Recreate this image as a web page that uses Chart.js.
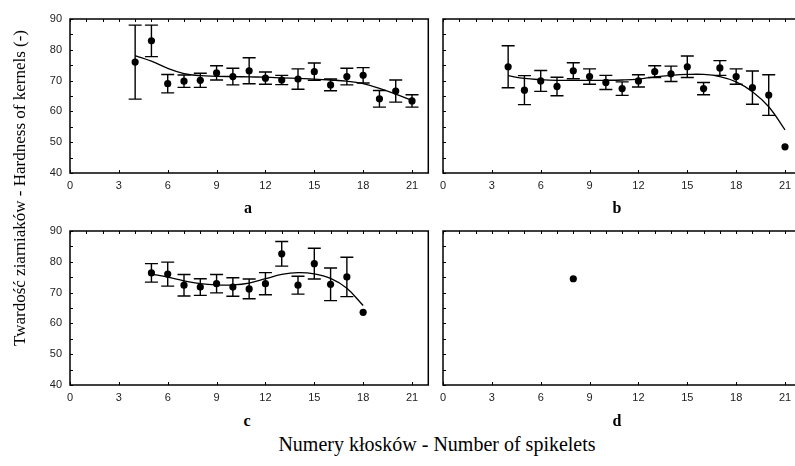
<!DOCTYPE html>
<html>
<head>
<meta charset="utf-8">
<script src="https://cdn.jsdelivr.net/npm/chart.js@4.4.1/dist/chart.umd.min.js"></script>
<style>
  html, body { margin: 0; padding: 0; background: #fff; overflow: hidden; width: 795px; height: 466px; }
  canvas { position: absolute; }
  .txt { position: absolute; font-family: "Liberation Serif", "Times New Roman", serif; color: #000; white-space: nowrap; transform: translate(-50%, -50%); }
  .letter { font-weight: bold; font-size: 16px; }
  .axis-title { font-size: 17px; }
</style>
</head>
<body>
<canvas id="chartA" width="440" height="200" style="left:0;top:0"></canvas>
<canvas id="chartB" width="440" height="200" style="left:373px;top:0"></canvas>
<canvas id="chartC" width="440" height="200" style="left:0;top:212px"></canvas>
<canvas id="chartD" width="440" height="200" style="left:373px;top:212px"></canvas>

<div class="txt letter" style="left:248px;top:208px">a</div>
<div class="txt letter" style="left:617px;top:208px">b</div>
<div class="txt letter" style="left:247px;top:421px">c</div>
<div class="txt letter" style="left:617px;top:421px">d</div>
<div class="txt axis-title" style="left:20px;top:188px;transform:translate(-50%,-50%) rotate(-90deg)">Twardość ziarniaków - Hardness of kernels (-)</div>
<div class="txt axis-title" style="left:437px;top:444px;font-size:20px">Numery kłosków - Number of spikelets</div>

<script>
// spikelet number, mean hardness, +/- error, fitted curve
const spikeletsA = [4, 5, 6, 7, 8, 9, 10, 11, 12, 13, 14, 15, 16, 17, 18, 19, 20, 21];
const hardnessA  = [76.0, 82.9, 69.0, 69.8, 70.1, 72.5, 71.3, 73.2, 70.8, 70.2, 70.5, 72.9, 68.6, 71.3, 71.7, 64.1, 66.6, 63.4];
const errorA     = [12.0, 5.1, 3.0, 2.0, 2.3, 2.3, 2.7, 4.2, 2.0, 1.5, 3.3, 2.8, 1.9, 2.7, 2.5, 2.7, 3.6, 2.0];
const fitA       = [78.1, 76.3, 74.0, 72.3, 71.6, 71.4, 71.3, 71.2, 71.1, 70.9, 70.7, 70.5, 70.2, 69.8, 69.0, 67.5, 65.6, 63.5];

const spikeletsB = [4, 5, 6, 7, 8, 9, 10, 11, 12, 13, 14, 15, 16, 17, 18, 19, 20, 21];
const hardnessB  = [74.5, 66.9, 69.9, 68.1, 73.2, 71.3, 69.4, 67.4, 69.9, 72.9, 72.2, 74.5, 67.4, 74.1, 71.3, 67.7, 65.3, 48.5];
const errorB     = [6.8, 4.7, 3.4, 3.0, 2.6, 2.5, 2.3, 2.2, 2.0, 1.9, 2.5, 3.5, 2.0, 2.4, 2.5, 5.4, 6.6, 0];
const fitB       = [71.6, 70.7, 70.3, 70.1, 70.1, 70.1, 70.1, 70.2, 70.5, 71.2, 71.7, 72.0, 72.0, 71.3, 69.6, 66.4, 61.5, 54.0];

const spikeletsC = [5, 6, 7, 8, 9, 10, 11, 12, 13, 14, 15, 16, 17, 18];
const hardnessC  = [76.4, 76.0, 72.4, 71.8, 72.9, 71.8, 71.2, 72.9, 82.6, 72.4, 79.4, 72.7, 75.1, 63.6];
const errorC     = [3.0, 3.9, 3.5, 2.7, 3.0, 3.0, 3.2, 3.6, 4.0, 2.9, 5.0, 5.3, 6.4, 0];
const fitC       = [76.0, 75.0, 73.8, 72.9, 72.5, 72.5, 73.1, 74.5, 75.9, 76.5, 76.1, 74.6, 71.4, 65.8];

const spikeletsD = [8];
const hardnessD  = [74.5];
const errorD     = [0];

const xTicks = [0, 3, 6, 9, 12, 15, 18, 21];
const yTicks = [40, 50, 60, 70, 80, 90];

// whiskers with caps, drawn from the scales
const errorBars = {
  id: 'errorBars',
  afterDatasetsDraw(chart) {
    const { ctx, scales: { x, y } } = chart;
    const pts = chart.data.datasets[0].data;
    ctx.save();
    ctx.strokeStyle = '#000';
    ctx.lineWidth = 1.4;
    pts.forEach(p => {
      if (!p.err) return;
      const px = x.getPixelForValue(p.x);
      const top = y.getPixelForValue(p.y + p.err);
      const bot = y.getPixelForValue(p.y - p.err);
      ctx.beginPath();
      ctx.moveTo(px, top); ctx.lineTo(px, bot);
      ctx.moveTo(px - 6.5, top); ctx.lineTo(px + 6.5, top);
      ctx.moveTo(px - 6.5, bot); ctx.lineTo(px + 6.5, bot);
      ctx.stroke();
    });
    ctx.restore();
  }
};

// box around the plot with small inward tick marks
const frame = {
  id: 'frame',
  afterDraw(chart) {
    const { ctx, chartArea: a, scales: { x, y } } = chart;
    ctx.save();
    ctx.strokeStyle = '#000';
    ctx.lineWidth = 1.5;
    ctx.strokeRect(a.left, a.top, a.right - a.left, a.bottom - a.top);
    ctx.lineWidth = 1;
    ctx.beginPath();
    for (let v = 40; v <= 90; v += 5) {
      const py = Math.round(y.getPixelForValue(v)) + 0.5;
      ctx.moveTo(a.left, py); ctx.lineTo(a.left + 3, py);
    }
    for (let v = 0; v <= 22; v += 1) {
      const px = Math.round(x.getPixelForValue(v)) + 0.5;
      ctx.moveTo(px, a.top); ctx.lineTo(px, a.top + 3);
    }
    xTicks.forEach(v => {
      const px = Math.round(x.getPixelForValue(v)) + 0.5;
      ctx.moveTo(px, a.bottom); ctx.lineTo(px, a.bottom - 3);
    });
    ctx.stroke();
    ctx.restore();
  }
};

function makePanel(id, xs, means, errs, fit, showYLabels) {
  const datasets = [{
    data: xs.map((v, i) => ({ x: v, y: means[i], err: errs[i] })),
    pointRadius: 3.6,
    pointBackgroundColor: '#000',
    pointBorderWidth: 0,
    showLine: false,
    order: 1
  }];
  if (fit) {
    datasets.push({
      type: 'line',
      data: xs.map((v, i) => ({ x: v, y: fit[i] })),
      borderColor: '#000',
      borderWidth: 1.3,
      pointRadius: 0,
      tension: 0.4,
      fill: false,
      order: 2
    });
  }
  return new Chart(document.getElementById(id), {
    type: 'scatter',
    data: { datasets },
    options: {
      responsive: false,
      animation: false,
      layout: { padding: { left: 34, top: 19, right: 11.7, bottom: 7 } },
      plugins: { legend: { display: false }, tooltip: { enabled: false } },
      scales: {
        x: {
          type: 'linear', min: 0, max: 22,
          afterFit: s => { s.height = 20; },
          afterBuildTicks: s => { s.ticks = xTicks.map(v => ({ value: v })); },
          grid: { display: false, drawTicks: false },
          border: { display: false },
          ticks: { padding: 6, color: '#222', font: { family: 'Liberation Sans, Arial, sans-serif', size: 11 }, maxRotation: 0 }
        },
        y: {
          min: 40, max: 90,
          afterFit: s => { s.width = 36; },
          afterBuildTicks: s => { s.ticks = yTicks.map(v => ({ value: v })); },
          grid: { display: false, drawTicks: false },
          border: { display: false },
          ticks: { display: showYLabels, padding: 8, color: '#222', font: { family: 'Liberation Sans, Arial, sans-serif', size: 11 } }
        }
      }
    },
    plugins: [errorBars, frame]
  });
}

makePanel('chartA', spikeletsA, hardnessA, errorA, fitA, true);
makePanel('chartB', spikeletsB, hardnessB, errorB, fitB, false);
makePanel('chartC', spikeletsC, hardnessC, errorC, fitC, true);
makePanel('chartD', spikeletsD, hardnessD, errorD, null, false);
</script>
</body>
</html>
